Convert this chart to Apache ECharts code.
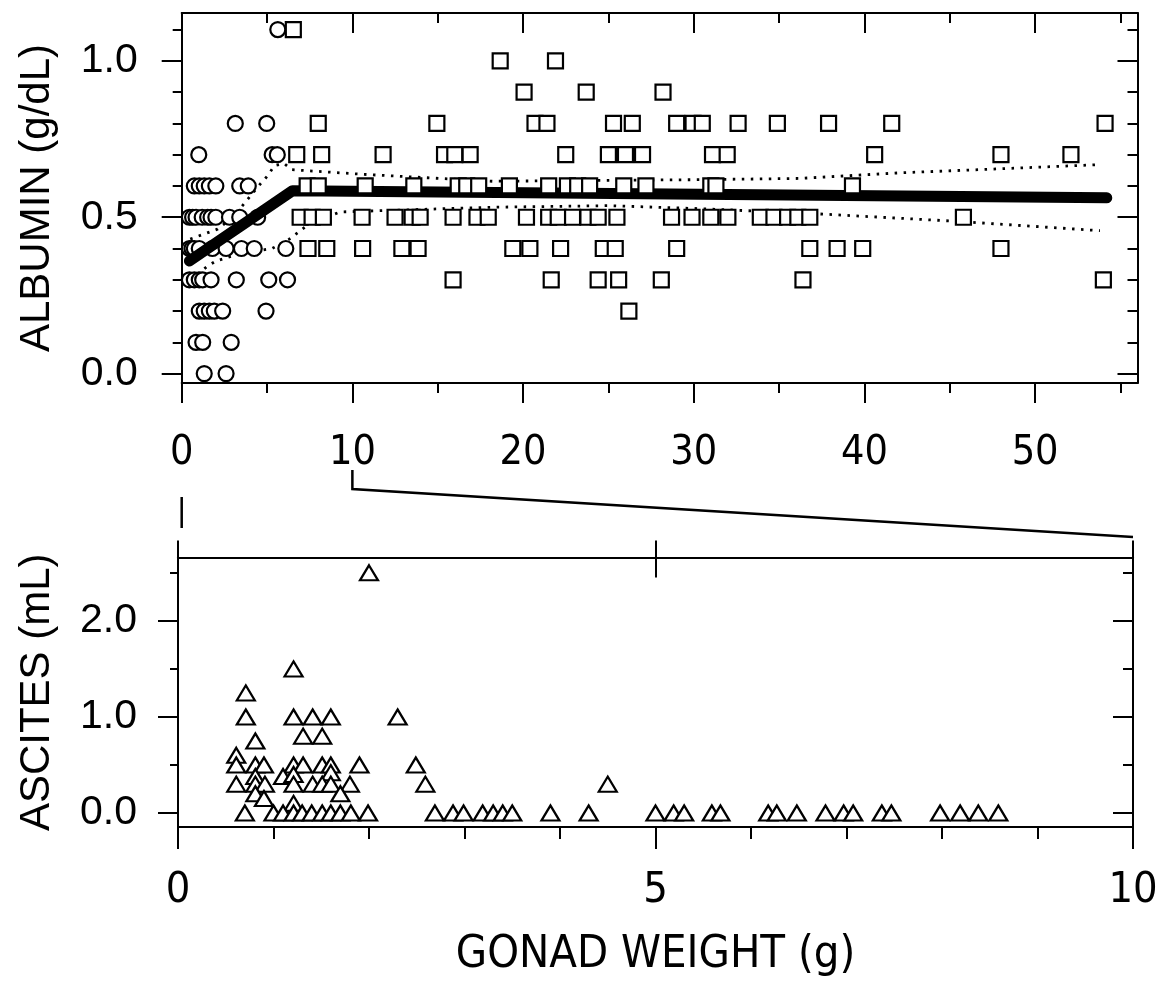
<!DOCTYPE html>
<html>
<head>
<meta charset="utf-8">
<title>Albumin and ascites vs gonad weight</title>
<script src="https://cdn.jsdelivr.net/npm/echarts@6/dist/echarts.min.js"></script>
<style>
  html, body { margin: 0; padding: 0; background: #fff; }
  #chart { width: 1165px; height: 989px; }
</style>
</head>
<body>
<div id="chart"></div>
<script>
// ---- data ----
// albumin (g/dL) vs gonad weight (g), small gonads (circles)
const albuminSmall = [
    [5.63, 1.1],
    [3.14, 0.8], [4.98, 0.8],
    [1.0, 0.7], [5.3, 0.7], [5.6, 0.7],
    [0.74, 0.6], [1.03, 0.6], [1.32, 0.6], [1.62, 0.6], [2.0, 0.6], [3.4, 0.6], [3.9, 0.6],
    [0.45, 0.5], [0.64, 0.5], [0.84, 0.5], [1.2, 0.5], [1.52, 0.5], [1.72, 0.5], [2.0, 0.5], [2.8, 0.5], [3.4, 0.5], [4.45, 0.5],
    [0.45, 0.4], [0.6, 0.4], [0.74, 0.4], [1.03, 0.4], [1.8, 0.4], [2.6, 0.4], [3.5, 0.4], [4.25, 0.4], [6.1, 0.4],
    [0.45, 0.3], [0.74, 0.3], [1.03, 0.3], [1.23, 0.3], [1.72, 0.3], [3.2, 0.3], [5.1, 0.3], [6.2, 0.3],
    [1.03, 0.2], [1.32, 0.2], [1.62, 0.2], [1.91, 0.2], [2.4, 0.2], [4.94, 0.2],
    [0.84, 0.1], [1.23, 0.1], [2.9, 0.1],
    [1.32, 0.0], [2.6, 0.0]
];
// large gonads (squares)
const albuminLarge = [
    [6.54, 1.1],
    [18.66, 1.0], [21.9, 1.0],
    [20.06, 0.9], [23.7, 0.9], [28.2, 0.9],
    [8.0, 0.8], [14.95, 0.8], [20.7, 0.8], [21.4, 0.8], [25.3, 0.8], [26.4, 0.8], [29.0, 0.8], [29.96, 0.8],
    [30.5, 0.8], [32.6, 0.8], [34.9, 0.8], [37.9, 0.8], [41.6, 0.8], [54.1, 0.8],
    [6.74, 0.7], [8.2, 0.7], [11.8, 0.7], [15.4, 0.7], [16.0, 0.7], [16.9, 0.7], [22.5, 0.7], [25.0, 0.7],
    [26.0, 0.7], [27.0, 0.7], [31.1, 0.7], [31.96, 0.7], [40.6, 0.7], [48.0, 0.7], [52.1, 0.7],
    [7.35, 0.6], [8.0, 0.6], [10.75, 0.6], [13.6, 0.6], [16.2, 0.6], [16.7, 0.6], [17.4, 0.6], [19.2, 0.6],
    [21.5, 0.6], [22.6, 0.6], [23.2, 0.6], [23.9, 0.6], [25.9, 0.6], [27.2, 0.6], [31.0, 0.6], [31.3, 0.6], [39.3, 0.6],
    [6.94, 0.5], [7.64, 0.5], [8.3, 0.5], [10.57, 0.5], [12.5, 0.5], [13.5, 0.5], [13.97, 0.5], [15.9, 0.5],
    [17.3, 0.5], [17.96, 0.5], [20.2, 0.5], [21.5, 0.5], [22.06, 0.5], [22.9, 0.5], [23.8, 0.5], [24.4, 0.5],
    [25.5, 0.5], [28.7, 0.5], [29.9, 0.5], [31.0, 0.5], [32.0, 0.5], [33.9, 0.5], [34.7, 0.5], [35.5, 0.5],
    [36.1, 0.5], [36.8, 0.5], [45.8, 0.5],
    [7.4, 0.4], [8.5, 0.4], [10.6, 0.4], [12.9, 0.4], [13.85, 0.4], [19.4, 0.4], [20.4, 0.4], [22.2, 0.4],
    [24.7, 0.4], [25.4, 0.4], [29.0, 0.4], [36.8, 0.4], [38.4, 0.4], [39.9, 0.4], [48.0, 0.4],
    [15.9, 0.3], [21.65, 0.3], [24.4, 0.3], [25.6, 0.3], [28.1, 0.3], [36.4, 0.3], [54.0, 0.3],
    [26.2, 0.2]
];
// broken-stick fit and its confidence band
const fitLine = [[0.45, 0.36], [6.5, 0.585], [54.2, 0.562]];
const ciUpper = [
    [0.5, 0.43], [2.1, 0.462], [3.0, 0.50], [3.8, 0.553], [4.6, 0.606], [5.04, 0.633], [5.43, 0.665],
    [6.0, 0.672], [6.45, 0.652], [10.7, 0.637], [18.2, 0.615], [25, 0.618], [30, 0.62], [36.2, 0.624],
    [42.1, 0.642], [48, 0.655], [53.7, 0.668]
];
const ciLower = [
    [0.5, 0.30], [1.5, 0.343], [2.0, 0.36], [3.5, 0.385], [5.3, 0.40], [6.3, 0.43], [7.5, 0.48],
    [9.3, 0.517], [18.2, 0.532], [25, 0.537], [30, 0.528], [36.2, 0.514], [45.4, 0.487], [53.8, 0.457]
];
// ascites (mL) vs gonad weight (g), triangles
const ascites = [
    [2.00, 2.5], [1.21, 1.5], [0.71, 1.25],
    [0.71, 1.0], [1.21, 1.0], [1.41, 1.0], [1.60, 1.0], [2.30, 1.0],
    [1.31, 0.8], [1.51, 0.8], [0.81, 0.75], [0.61, 0.6],
    [0.61, 0.5], [0.81, 0.5], [0.90, 0.5], [1.21, 0.5], [1.31, 0.5], [1.51, 0.5], [1.60, 0.5], [1.90, 0.5], [2.49, 0.5],
    [0.81, 0.38], [1.10, 0.38], [1.21, 0.4], [1.60, 0.42],
    [0.61, 0.3], [0.81, 0.3], [0.91, 0.3], [1.21, 0.3], [1.41, 0.3], [1.51, 0.3], [1.60, 0.3], [1.80, 0.3], [2.59, 0.3], [4.50, 0.3],
    [0.81, 0.2], [1.70, 0.2], [0.90, 0.15], [1.21, 0.1],
    [0.70, 0.0], [1.00, 0.0], [1.10, 0.0], [1.21, 0.0], [1.30, 0.0], [1.40, 0.0], [1.51, 0.0], [1.60, 0.0],
    [1.70, 0.0], [1.81, 0.0], [1.99, 0.0], [2.69, 0.0], [2.88, 0.0], [2.99, 0.0], [3.19, 0.0], [3.30, 0.0],
    [3.40, 0.0], [3.50, 0.0], [3.90, 0.0], [4.30, 0.0], [5.00, 0.0], [5.19, 0.0], [5.30, 0.0], [5.59, 0.0],
    [5.68, 0.0], [6.18, 0.0], [6.27, 0.0], [6.48, 0.0], [6.78, 0.0], [6.97, 0.0], [7.07, 0.0], [7.37, 0.0],
    [7.47, 0.0], [7.98, 0.0], [8.19, 0.0], [8.38, 0.0], [8.59, 0.0]
];

// tick values
const topXMajor = [0, 10, 20, 30, 40, 50];
const topXMinor = [5, 15, 25, 35, 45, 55];
const topYMajor = [0, 0.5, 1.0];
const topYMinor = [0.1, 0.2, 0.3, 0.4, 0.6, 0.7, 0.8, 0.9, 1.1];
const lowXMajor = [0, 5, 10];
const lowXMinor = [1, 2, 3, 4, 6, 7, 8, 9];
const lowYMajor = [0, 1, 2];
const lowYMinor = [0.5, 1.5, 2.5];

const TOP_X = [0, 56], TOP_Y = [-0.03, 1.153];
const LOW_X = [0, 10], LOW_Y = [-0.146, 2.66];

const plain = 'Liberation Sans, Arimo, Arial, sans-serif';
const narrow = 'DejaVu Sans Condensed, sans-serif';
const black = '#000';

// one axis = one set of ticks; extra axes only carry ticks
function axis(grid, pos, range, ticks, len, inside, opts) {
    opts = opts || {};
    let a = {
        type: 'value',
        gridIndex: grid,
        position: pos,
        min: range[0],
        max: range[1],
        splitLine: { show: false },
        axisLine: { show: !!opts.line, onZero: false, lineStyle: { color: black, width: 2 } },
        axisTick: {
            show: true, inside: inside, length: len, customValues: ticks,
            lineStyle: { color: black, width: 2 }
        },
        axisLabel: { show: false }
    };
    if (opts.labels) {
        a.axisLabel = {
            show: true,
            customValues: ticks,
            color: black,
            fontFamily: opts.font,
            fontSize: opts.size,
            margin: opts.margin,
            formatter: opts.fmt
        };
    }
    if (opts.name) {
        a.name = opts.name;
        a.nameLocation = 'middle';
        a.nameGap = opts.nameGap;
        a.nameTextStyle = { color: black, fontFamily: opts.nameFont, fontSize: opts.nameSize };
    }
    return a;
}

const xAxes = [
    axis(0, 'bottom', TOP_X, topXMajor, 20, false,
        { line: true, labels: true, font: narrow, size: 41, margin: 50, fmt: v => String(v) }),
    axis(0, 'bottom', TOP_X, topXMinor, 10, false),
    axis(0, 'top', TOP_X, topXMajor, 20, true, { line: true }),
    axis(0, 'top', TOP_X, topXMinor, 10, true),
    axis(1, 'bottom', LOW_X, lowXMajor, 22, false,
        { line: true, labels: true, font: narrow, size: 43, margin: 42, fmt: v => String(v),
          name: 'GONAD WEIGHT (g)', nameGap: 106, nameFont: narrow, nameSize: 45 }),
    axis(1, 'bottom', LOW_X, lowXMinor, 12, false),
    axis(1, 'top', LOW_X, lowXMajor, 17, false, { line: true }),
    axis(1, 'top', LOW_X, [5], 20, true)
];

const yAxes = [
    axis(0, 'left', TOP_Y, topYMajor, 20, false,
        { line: true, labels: true, font: plain, size: 41, margin: 44, fmt: v => v.toFixed(1),
          name: 'ALBUMIN (g/dL)', nameGap: 123, nameFont: plain, nameSize: 42 }),
    axis(0, 'left', TOP_Y, topYMinor, 9, false),
    axis(0, 'right', TOP_Y, topYMajor, 20, true, { line: true }),
    axis(0, 'right', TOP_Y, topYMinor, 10, true),
    axis(1, 'left', LOW_Y, lowYMajor, 20, false,
        { line: true, labels: true, font: plain, size: 41, margin: 41, fmt: v => v.toFixed(1),
          name: 'ASCITES (mL)', nameGap: 120, nameFont: plain, nameSize: 42 }),
    axis(1, 'left', LOW_Y, lowYMinor, 8, false),
    axis(1, 'right', LOW_Y, lowYMajor, 20, true, { line: true }),
    axis(1, 'right', LOW_Y, lowYMinor, 10, true)
];

const marker = { color: '#fff', borderColor: black, borderWidth: 2.2, opacity: 1 };

var chart = echarts.init(document.getElementById('chart'), null, { renderer: 'canvas' });

var option = {
    animation: false,
    backgroundColor: '#fff',
    grid: [
        { left: 181.7, top: 13, width: 955.8, height: 370 },
        { left: 178, top: 557.5, width: 955, height: 269.5 }
    ],
    xAxis: xAxes,
    yAxis: yAxes,
    series: [
        {
            name: 'upper 95%', type: 'line', xAxisIndex: 0, yAxisIndex: 0, z: 2,
            data: ciUpper, symbol: 'none', silent: true,
            lineStyle: { color: black, width: 2.8, type: [2.5, 6.5] }
        },
        {
            name: 'lower 95%', type: 'line', xAxisIndex: 0, yAxisIndex: 0, z: 2,
            data: ciLower, symbol: 'none', silent: true,
            lineStyle: { color: black, width: 2.8, type: [2.5, 6.5] }
        },
        {
            name: 'small', type: 'scatter', xAxisIndex: 0, yAxisIndex: 0, z: 3,
            data: albuminSmall, symbol: 'circle', symbolSize: 15, itemStyle: marker
        },
        {
            name: 'fit', type: 'line', xAxisIndex: 0, yAxisIndex: 0, z: 4,
            data: fitLine, symbol: 'none', silent: true,
            lineStyle: { color: black, width: 11, cap: 'round', join: 'round' }
        },
        {
            name: 'large', type: 'scatter', xAxisIndex: 0, yAxisIndex: 0, z: 5,
            data: albuminLarge, symbol: 'rect', symbolSize: 15, itemStyle: marker
        },
        {
            name: 'ascites', type: 'scatter', xAxisIndex: 4, yAxisIndex: 4, z: 5,
            data: ascites, symbol: 'triangle', symbolSize: [18, 15], itemStyle: marker
        }
    ]
};
chart.setOption(option);

// zoom connector between the two x scales (0 and 10 g)
let top0 = chart.convertToPixel({ xAxisIndex: 0 }, 0);
let top10 = chart.convertToPixel({ xAxisIndex: 0 }, 10);
let low10 = chart.convertToPixel({ xAxisIndex: 4 }, 10);
const lineStyle = { stroke: black, lineWidth: 2.5, fill: null };
chart.setOption({
    graphic: [
        { type: 'line', shape: { x1: top0, y1: 497, x2: top0, y2: 528 }, style: lineStyle },
        {
            type: 'polyline',
            shape: { points: [[top10, 470], [top10, 489], [low10, 537]] },
            style: lineStyle
        }
    ]
});
</script>
</body>
</html>
